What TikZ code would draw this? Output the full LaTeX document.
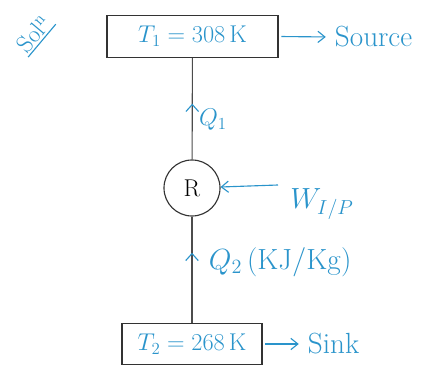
\documentclass[tikz,border=0pt]{standalone}
\usepackage{amsmath}
\usetikzlibrary{arrows.meta, decorations.markings}
\definecolor{pen_blue}{HTML}{2A94CB}
\tikzset{
  res/.style={draw=black!80, thick, minimum height=1.05cm, inner sep=0pt, font=\LARGE, text=pen_blue},
  pen/.style={text=pen_blue, font=\LARGE},
  penarrow/.style={pen_blue, thick, -{Straight Barb[length=5pt, width=8pt]}},
  midflow/.style={postaction={decorate}, decoration={markings,
      mark=at position #1 with {\arrow[pen_blue, thick]{Straight Barb[length=5pt, width=9pt]}}}},
}

\begin{document}
\begin{tikzpicture}[x=0.025cm, y=-0.025cm]
  \useasboundingbox (0,0) rectangle (423,366);

  % Reservoirs
  \node[res, minimum width=4.275cm] (src) at (192.5,36.5) {$T_1 = 308\,\mathrm{K}$};
  \node[res, minimum width=3.5cm, minimum height=1.02cm] (snk) at (192,344) {$T_2 = 268\,\mathrm{K}$};

  % Refrigerator
  \node[draw=black!80, thick, circle, minimum size=1.4cm, inner sep=0pt, font=\LARGE] (ref) at (192,188) {R};

  % Heat flows
  \draw[thick, black!70, midflow=0.55] (ref) -- (src);
  \draw[thick, black!70, midflow=0.66] (snk) -- (ref);
  \node[pen] (q1) at (213,120) {$Q_1$};
  \node[pen, font=\huge, anchor=west] (q2) at (204,262) {$Q_2\,(\mathrm{KJ/Kg})$};

  % Work input
  \coordinate (win) at (278,185);
  \draw[penarrow] (win) -- (ref);
  \node[pen, font=\huge] (w) at (322,204) {$W_{I/P}$};

  % Labels
  \node[pen, font=\huge, anchor=west] (srclbl) at (330,37) {Source};
  \draw[penarrow, shorten <=2pt, shorten >=3pt] (src.east) -- (srclbl.west);
  \node[pen, font=\huge, anchor=west] (snklbl) at (303,344) {Sink};
  \draw[penarrow, shorten <=2pt, shorten >=3pt] (snk.east) -- (snklbl.west);

  % Solution mark
  \node[text=pen_blue, font=\LARGE, rotate=50, inner sep=1pt] (soln) at (34,34) {Sol\textsuperscript{n}};
  \draw[pen_blue, thick] (soln.south west) -- (soln.south east);
\end{tikzpicture}
\end{document}
